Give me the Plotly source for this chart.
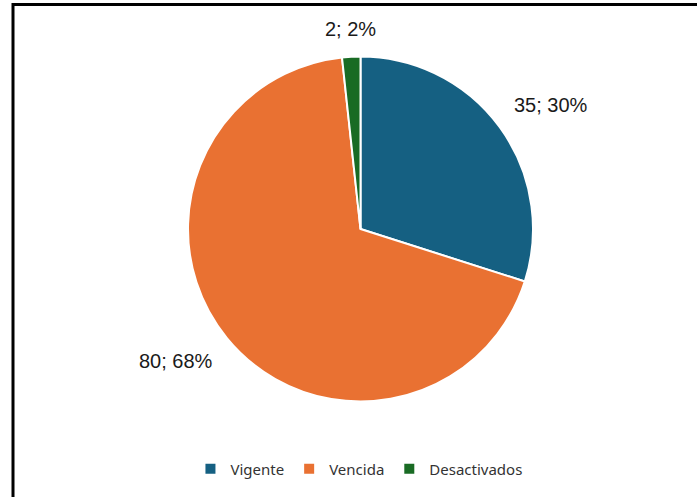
import math
import plotly.graph_objects as go

categories = ["Vigente", "Vencida", "Desactivados"]
values = [35, 80, 2]
colors = ["#156082", "#E97132", "#196B24"]

W, H = 697, 497

# pie placement (pixels) -> domain
CX, CY, R = 360.5, 229.0, 172.5
dom_x = [(CX - R) / W, (CX + R) / W]
dom_y = [(H - CY - R) / H, (H - CY + R) / H]

fig = go.Figure(go.Pie(
    labels=categories,
    values=values,
    sort=False,
    direction="clockwise",
    rotation=0,
    marker=dict(colors=colors, line=dict(color="white", width=2)),
    textinfo="none",
    domain=dict(x=dom_x, y=dom_y),
    hoverinfo="label+value+percent",
))

# data labels "value; percent" placed just outside each slice, at its mid-angle
total = sum(values)
gap = 15
cum = 0.0
annotations = []
for v in values:
    mid = (cum + v / 2) / total * 2 * math.pi
    cum += v
    ux, uy = math.sin(mid), math.cos(mid)  # uy positive = up
    px = CX + (R + gap) * ux
    py = CY - (R + gap) * uy
    xa = "left" if ux > 0.15 else ("right" if ux < -0.15 else "center")
    ya = "bottom" if uy > 0.15 else ("top" if uy < -0.15 else "middle")
    pct = round(v / total * 100)
    annotations.append(dict(
        x=px / W, y=(H - py) / H, xref="paper", yref="paper",
        text=f"{v}; {pct}%", showarrow=False, xanchor=xa, yanchor=ya,
        font=dict(family="Liberation Sans, Arial, sans-serif", size=20, color="#1a1a1a"),
    ))

fig.update_layout(
    width=W, height=H,
    margin=dict(l=0, r=0, t=0, b=0),
    paper_bgcolor="white",
    showlegend=True,
    annotations=annotations,
    legend=dict(
        orientation="h",
        x=0.515, xanchor="center",
        y=(H - 469) / H, yanchor="middle",
        font=dict(family="Noto Sans, Inter, sans-serif", size=15, color="#333333"),
        itemwidth=30,
    ),
    shapes=[dict(
        type="rect", xref="paper", yref="paper",
        x0=13 / W, x1=1.05, y0=-0.05, y1=(H - 4.5) / H,
        line=dict(color="black", width=3), fillcolor="rgba(0,0,0,0)",
        layer="above",
    )],
)

fig.write_html("out.html", config={"displayModeBar": False},
               post_script="document.body.style.margin='0';document.body.style.padding='0';")
